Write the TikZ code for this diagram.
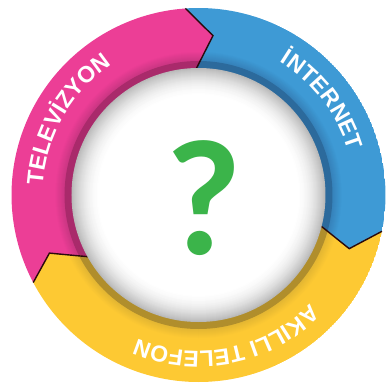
\documentclass[tikz,border=0pt]{standalone}
\usepackage{fontspec}
\usetikzlibrary{decorations.text}
\newfontfamily\lblfont{Liberation Sans}
\newfontfamily\qfont{Carlito}
\newcommand\lblstyle{\lblfont\bfseries\fontsize{23}{23}\selectfont}
\newcommand\rout{187pt}
\newcommand\rin{124pt}
\newcommand\rtip{160pt}

\definecolor{tvpink}{HTML}{EC3E96}
\definecolor{tvpinkmd}{HTML}{C93582}
\definecolor{tvpinkdk}{HTML}{A92A6B}
\definecolor{netblue}{HTML}{3E9AD5}
\definecolor{netbluemd}{HTML}{3580B8}
\definecolor{netbluedk}{HTML}{2C6A9C}
\definecolor{telyellow}{HTML}{FDC933}
\definecolor{telyellowmd}{HTML}{E2B532}
\definecolor{telyellowdk}{HTML}{B08E2C}
\definecolor{qgreen}{HTML}{3BB44A}
\definecolor{chevline}{HTML}{2B0A0C}

\tikzset{
chev/.style={draw=chevline,line width=1.4pt,line join=miter},
lbl/.style={decorate,decoration={text along path,text align=center,text color=white,text={|\lblstyle|#1}}},
qmark/.style={text=qgreen,inner sep=0pt,font=\qfont\bfseries\fontsize{165}{165}\selectfont}}

\begin{document}
\begin{tikzpicture}
  \useasboundingbox (-198.5pt,-197pt) rectangle (188.5pt,195pt);
  \coordinate (pbOut) at (94:\rout);
  \coordinate (pbTip) at (84.8:\rtip);
  \coordinate (pbIn) at (91.6:\rin);
  \coordinate (byOut) at (-11.2:\rout);
  \coordinate (byTip) at (-19.6:\rtip);
  \coordinate (byIn) at (-13.7:\rin);
  \coordinate (ypOut) at (207.9:\rout);
  \coordinate (ypTip) at (201.3:\rtip);
  \coordinate (ypIn) at (210:\rin);
  \begin{scope}
    \clip (ypOut) arc[start angle=207.9,end angle=94,radius=\rout] -- (pbTip) -- (pbIn)
      arc[start angle=91.6,end angle=210,radius=\rin] -- (ypTip) -- cycle;
    \fill[tvpink] (0,0) circle (\rout);
    \foreach \k in {0,...,9} \fill[tvpinkmd!\k0!tvpink] (0,0) circle ({(144-\k)*1pt});
    \fill[tvpinkdk] (0,0) circle (134pt);
  \end{scope}
  \begin{scope}
    \clip (pbOut) arc[start angle=94,end angle=-11.2,radius=\rout] -- (byTip) -- (byIn)
      arc[start angle=-13.7,end angle=91.6,radius=\rin] -- (pbTip) -- cycle;
    \fill[netblue] (0,0) circle (\rout);
    \foreach \k in {0,...,9} \fill[netbluemd!\k0!netblue] (0,0) circle ({(144-\k)*1pt});
    \fill[netbluedk] (0,0) circle (134pt);
  \end{scope}
  \begin{scope}
    \clip (byOut) arc[start angle=-11.2,end angle=-152.1,radius=\rout] -- (ypTip) -- (ypIn)
      arc[start angle=-150,end angle=-13.7,radius=\rin] -- (byTip) -- cycle;
    \fill[telyellow] (0,0) circle (\rout);
    \foreach \k in {0,...,9} \fill[telyellowmd!\k0!telyellow] (0,0) circle ({(144-\k)*1pt});
    \fill[telyellowdk] (0,0) circle (134pt);
  \end{scope}
  \draw[chev] (pbOut) -- (pbTip) -- (pbIn);
  \draw[chev] (byOut) -- (byTip) -- (byIn);
  \draw[chev] (ypOut) -- (ypTip) -- (ypIn);
  \foreach \k in {0,...,30} {
    \pgfmathtruncatemacro\pct{55*(1-\k/30)^2}
    \fill[gray!\pct] (0,0) circle ({(127-\k)*1pt});
  }
  \path[lbl=TELEVİZYON] (200:156pt) arc[start angle=200,end angle=100,radius=156pt];
  \path[lbl=İNTERNET] (87.5:156pt) arc[start angle=87.5,end angle=-12.5,radius=156pt];
  \path[lbl=AKILLI TELEFON] (-28.7:156pt) arc[start angle=-28.7,end angle=-128.7,radius=156pt];
  \node[qmark] (quest) at (5pt,-3pt) {?};
\end{tikzpicture}
\end{document}
